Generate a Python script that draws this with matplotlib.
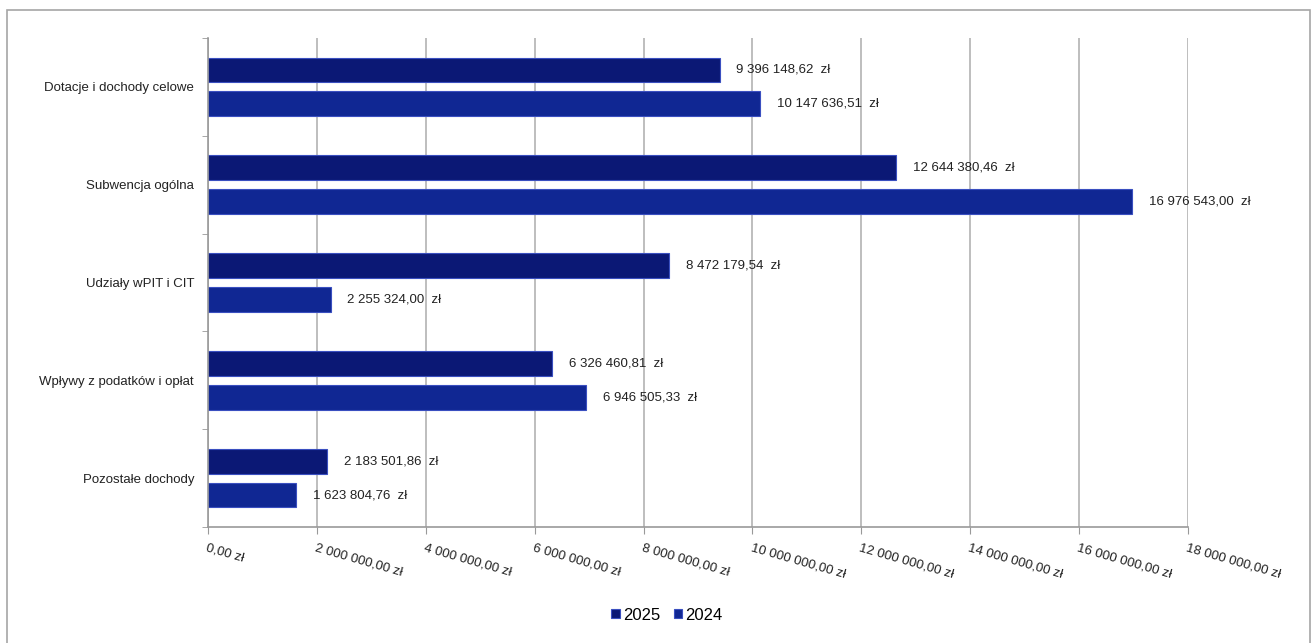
import matplotlib
matplotlib.use("Agg")
import matplotlib.pyplot as plt
from matplotlib.patches import Rectangle
import numpy as np

plt.rcParams['font.family'] = ['Liberation Sans', 'DejaVu Sans']

categories = ["Dotacje i dochody celowe", "Subwencja ogólna", "Udziały wPIT i CIT",
              "Wpływy z podatków i opłat", "Pozostałe dochody"]
values_2025 = [9396148.62, 12644380.46, 8472179.54, 6326460.81, 2183501.86]
values_2024 = [10147636.51, 16976543.00, 2255324.00, 6946505.33, 1623804.76]
series_names = ["2025", "2024"]
xticks = [0, 2e6, 4e6, 6e6, 8e6, 10e6, 12e6, 14e6, 16e6, 18e6]


def fmt_pl(v):
    s = f"{v:,.2f}"
    ip, dp = s.split(".")
    return ip.replace(",", " ") + "," + dp


fig = plt.figure(figsize=(13.14, 6.43), dpi=100)
fig.patches.append(Rectangle((7/1314, -0.05), (1310-7)/1314, 1.05-10/643, transform=fig.transFigure,
                             fill=False, edgecolor='#a6a6a6', linewidth=1.2))

ax = fig.add_axes([208/1314, 1-527/643, (1188-208)/1314, (527-38)/643])

n = len(categories)
y = np.arange(n)
h = 0.255
off = 0.173
c2025 = '#0b1875'
c2024 = '#102793'
edge = '#3a4fc0'

ax.barh(y - off, values_2025, height=h, color=c2025, edgecolor=edge, linewidth=0.8, label=series_names[0])
ax.barh(y + off, values_2024, height=h, color=c2024, edgecolor=edge, linewidth=0.8, label=series_names[1])

for yi, v in zip(y - off, values_2025):
    ax.annotate(fmt_pl(v) + "  zł", (v, yi), xytext=(12, 0), textcoords='offset points',
                va='center', ha='left', fontsize=9.5, color='#222222')
for yi, v in zip(y + off, values_2024):
    ax.annotate(fmt_pl(v) + "  zł", (v, yi), xytext=(12, 0), textcoords='offset points',
                va='center', ha='left', fontsize=9.5, color='#222222')

ax.set_ylim(n - 0.5, -0.5)
ax.set_xlim(0, 18e6)
ax.set_yticks(y)
ax.set_yticklabels(categories, fontsize=9.5, color='#222222')
ax.set_yticks(np.arange(-0.5, n, 1.0), minor=True)
ax.tick_params(axis='y', which='major', length=0, pad=10)
ax.tick_params(axis='y', which='minor', length=4, color='#999999', direction='out')

ax.set_xticks(xticks)
ax.set_xticklabels([fmt_pl(v) + " zł" for v in xticks], rotation=-16, ha='left', va='top',
                   rotation_mode='anchor', fontsize=9.5, color='#222222')
ax.tick_params(axis='x', length=5, color='#999999', pad=6)

ax.grid(axis='x', color='#b3b3b3', linewidth=1.2)
ax.set_axisbelow(True)
for s in ['top', 'right']:
    ax.spines[s].set_visible(False)
for s in ['left', 'bottom']:
    ax.spines[s].set_color('#999999')
    ax.spines[s].set_linewidth(1.2)

fig.legend(loc='center', bbox_to_anchor=(667/1314, 1-615/643), ncol=2, frameon=False,
           fontsize=12, handlelength=0.5, handleheight=0.5, handletextpad=0.2, columnspacing=0.8)

fig.savefig("out.png", dpi=100)
